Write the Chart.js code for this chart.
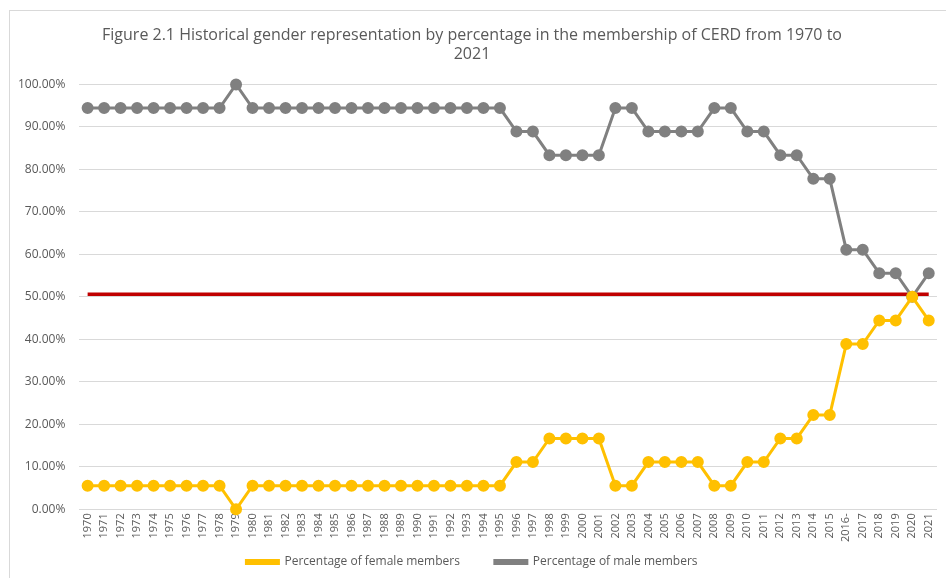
<!DOCTYPE html>
<html>
<head>
<meta charset="utf-8">
<script src="https://cdn.jsdelivr.net/npm/chart.js@4.4.1/dist/chart.umd.min.js"></script>
<style>
  html, body { margin: 0; padding: 0; background: #fff; overflow: hidden; }
  #wrap { position: relative; width: 946px; height: 578px; }
  #frame { position: absolute; left: 9px; top: 10px; width: 960px; height: 600px;
           border: 1px solid #d9d9d9; box-sizing: border-box; }
  canvas { position: absolute; left: 0; top: 0; }
</style>
</head>
<body>
<div id="wrap">
  <div id="frame"></div>
  <canvas id="chart" width="946" height="578"></canvas>
</div>
<script>
// years on the x axis (as printed in the source chart)
const years = [
  "1970","1971","1972","1973","1974","1975","1976","1977","1978","1979",
  "1980","1981","1982","1983","1984","1985","1986","1987","1988","1989",
  "1990","1991","1992","1993","1994","1995","1996","1997","1998","1999",
  "2000","2001","2002","2003","2004","2005","2006","2007","2008","2009",
  "2010","2011","2012","2013","2014","2015","2016-","2017","2018","2019",
  "2020","2021"
];

// percentage of female members per year
const femaleShare = [
  5.56,5.56,5.56,5.56,5.56,5.56,5.56,5.56,5.56,0,
  5.56,5.56,5.56,5.56,5.56,5.56,5.56,5.56,5.56,5.56,
  5.56,5.56,5.56,5.56,5.56,5.56,11.11,11.11,16.67,16.67,
  16.67,16.67,5.56,5.56,11.11,11.11,11.11,11.11,5.56,5.56,
  11.11,11.11,16.67,16.67,22.22,22.22,38.89,38.89,44.44,44.44,
  50,44.44
];

// percentage of male members per year
const maleShare = [
  94.44,94.44,94.44,94.44,94.44,94.44,94.44,94.44,94.44,100,
  94.44,94.44,94.44,94.44,94.44,94.44,94.44,94.44,94.44,94.44,
  94.44,94.44,94.44,94.44,94.44,94.44,88.89,88.89,83.33,83.33,
  83.33,83.33,94.44,94.44,88.89,88.89,88.89,88.89,94.44,94.44,
  88.89,88.89,83.33,83.33,77.78,77.78,61.11,61.11,55.56,55.56,
  50,55.56
];

// the red parity reference line
const parityLevel = years.map(function () { return 50.6; });

const textColor = "#595959";
const gridColor = "#d9d9d9";

new Chart(document.getElementById("chart"), {
  type: "line",
  data: {
    labels: years,
    datasets: [
      {
        label: "Percentage of female members",
        data: femaleShare,
        borderColor: "#ffc000",
        backgroundColor: "#ffc000",
        borderWidth: 3,
        pointRadius: 4.5,
        pointHoverRadius: 4.5,
        tension: 0,
        clip: false,
        order: 1
      },
      {
        label: "Percentage of male members",
        data: maleShare,
        borderColor: "#808080",
        backgroundColor: "#808080",
        borderWidth: 3,
        pointRadius: 4.5,
        pointHoverRadius: 4.5,
        tension: 0,
        clip: false,
        order: 1
      },
      {
        label: "parity",
        data: parityLevel,
        borderColor: "#c00000",
        backgroundColor: "#c00000",
        borderWidth: 3.5,
        pointRadius: 0,
        tension: 0,
        order: 2
      }
    ]
  },
  options: {
    responsive: false,
    animation: false,
    layout: { padding: { left: 4, right: 6, top: 14, bottom: 0 } },
    plugins: {
      title: {
        display: true,
        text: ["Figure 2.1 Historical gender representation by percentage in the membership of CERD from 1970 to", "2021"],
        color: textColor,
        font: { family: "'Open Sans', sans-serif", size: 16, weight: "normal" },
        padding: { top: 12, bottom: 20 },
        lineHeight: 1.3
      },
      legend: {
        position: "bottom",
        labels: {
          color: textColor,
          font: { family: "'Open Sans', sans-serif", size: 12 },
          boxWidth: 32,
          boxHeight: 3,
          padding: 10,
          filter: function (item) { return item.text !== "parity"; },
          // keep Excel-like wide gap between the two entries
          generateLabels: function (chart) {
            const items = Chart.defaults.plugins.legend.labels.generateLabels(chart);
            items.forEach(function (it, i) { if (i === 0) it.text = it.text + "        "; });
            return items;
          }
        }
      },
      tooltip: { enabled: false }
    },
    scales: {
      x: {
        offset: true,
        grid: { display: false, drawTicks: false },
        border: { color: gridColor },
        ticks: {
          color: textColor,
          font: { family: "'Open Sans', sans-serif", size: 11 },
          maxRotation: 90,
          minRotation: 90,
          autoSkip: false,
          padding: 4
        }
      },
      y: {
        min: 0,
        max: 100,
        grid: { color: gridColor, drawTicks: false },
        border: { display: false },
        ticks: {
          stepSize: 10,
          color: textColor,
          font: { family: "'Open Sans', sans-serif", size: 12 },
          padding: 14,
          callback: function (v) { return v.toFixed(2) + "%"; }
        }
      }
    }
  }
});
</script>
</body>
</html>
